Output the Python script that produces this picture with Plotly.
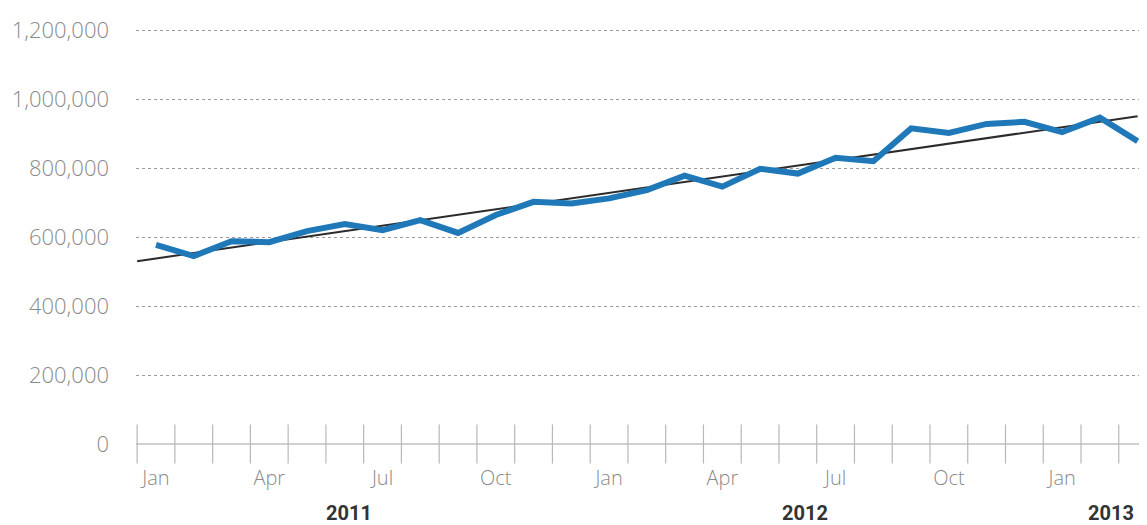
import plotly.graph_objects as go

# ---- data ----
months = ["Jan 2011", "Feb 2011", "Mar 2011", "Apr 2011", "May 2011", "Jun 2011",
          "Jul 2011", "Aug 2011", "Sep 2011", "Oct 2011", "Nov 2011", "Dec 2011",
          "Jan 2012", "Feb 2012", "Mar 2012", "Apr 2012", "May 2012", "Jun 2012",
          "Jul 2012", "Aug 2012", "Sep 2012", "Oct 2012", "Nov 2012", "Dec 2012",
          "Jan 2013", "Feb 2013", "Mar 2013"]
values = [577000, 545000, 588000, 585000, 617000, 638000,
          620000, 649000, 612000, 664000, 702000, 697000,
          712000, 736000, 778000, 746000, 798000, 784000,
          830000, 820000, 915000, 902000, 928000, 934000,
          904000, 946000, 878000]
trend_values = [530000, 950000]          # start / end of the trend line
tick_labels = ["Jan", "Apr", "Jul", "Oct", "Jan", "Apr", "Jul", "Oct", "Jan"]
tick_months = [0, 3, 6, 9, 12, 15, 18, 21, 24]
year_labels = ["2011", "2012", "2013"]
year_pos = [5.1, 17.2, 25.3]
y_ticks = [0, 200000, 400000, 600000, 800000, 1000000, 1200000]

x_idx = list(range(len(months)))
boundaries = [i - 0.5 for i in range(len(months) + 1)]

fig = go.Figure()

# month boundary tick marks on the baseline
fig.add_trace(go.Scatter(
    x=boundaries, y=[0] * len(boundaries), mode="markers",
    marker=dict(symbol="line-ns-open", size=28, color="#b8b8b8",
                line=dict(color="#b8b8b8", width=1.2)),
    hoverinfo="skip", showlegend=False, cliponaxis=False))

# trend line
fig.add_trace(go.Scatter(
    x=[x_idx[0] - 0.5, x_idx[-1]], y=trend_values, mode="lines",
    line=dict(color="#2b2b2b", width=2), hoverinfo="skip", showlegend=False))

# main series
fig.add_trace(go.Scatter(
    x=x_idx, y=values, mode="lines", customdata=months,
    line=dict(color="#1f78b8", width=6),
    hovertemplate="%{customdata}: %{y:,}<extra></extra>", showlegend=False))

for lab, pos in zip(year_labels, year_pos):
    fig.add_annotation(x=pos, y=-0.2, xref="x", yref="paper", text=lab,
                       showarrow=False, font=dict(family="Roboto", size=20, color="#333333",
                                                  weight="bold"))

fig.update_layout(
    width=1147, height=525,
    margin=dict(l=128, r=0, t=20, b=89),
    paper_bgcolor="white", plot_bgcolor="white",
    font=dict(family="Open Sans", color="#8a8a8a"),
)
fig.update_xaxes(
    range=[-0.53, 26.46], tickvals=tick_months, ticktext=tick_labels,
    showgrid=False, zeroline=False, showline=False, ticks="",
    tickfont=dict(size=20, color="#8a8a8a", family="Open Sans", weight=300),
    ticklabelstandoff=20,
)
fig.update_yaxes(
    range=[0, 1206000], tickvals=y_ticks, tickformat=",",
    showgrid=True, gridcolor="#9a9a9a", gridwidth=1.2, griddash="dot",
    zeroline=True, zerolinecolor="#d0d0d0", zerolinewidth=1.5,
    tickfont=dict(size=22, color="#8a8a8a", family="Open Sans", weight=300),
    ticklabelstandoff=26,
)

fig.write_html("out.html")
